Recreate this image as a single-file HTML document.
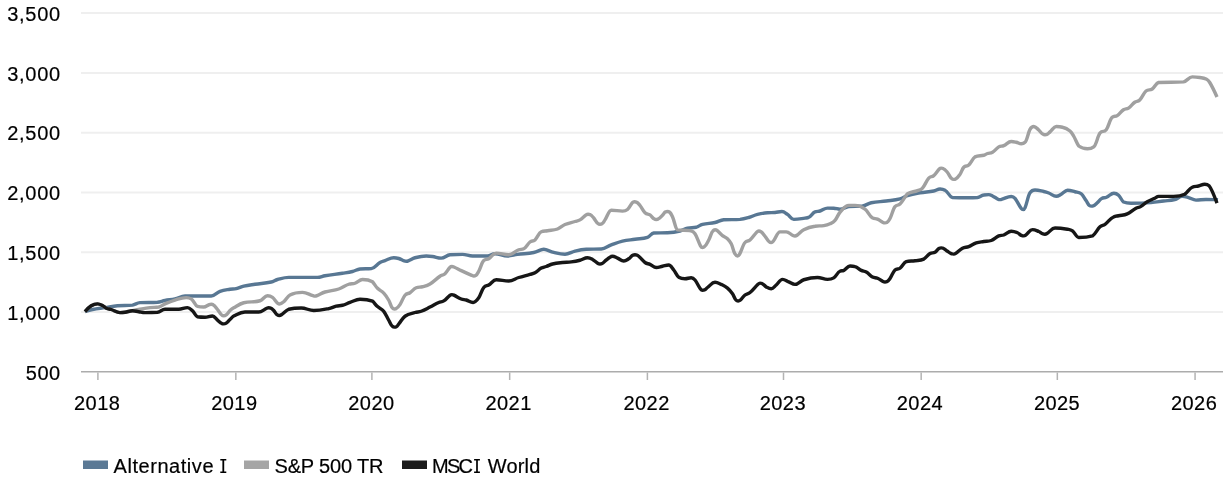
<!DOCTYPE html>
<html><head><meta charset="utf-8"><style>
html,body{margin:0;padding:0;background:#fff;}
svg{display:block;will-change:transform;font-family:"Liberation Sans",sans-serif;font-size:20px;}
text{fill:#000;stroke:#000;stroke-width:0.2px;}
.tx{opacity:0.999;}

</style></head><body>
<svg width="1230" height="480" viewBox="0 0 1230 480">
<line x1="81" y1="13.10" x2="1223" y2="13.10" stroke="#efefef" stroke-width="2"/>
<line x1="81" y1="72.88" x2="1223" y2="72.88" stroke="#efefef" stroke-width="2"/>
<line x1="81" y1="132.67" x2="1223" y2="132.67" stroke="#efefef" stroke-width="2"/>
<line x1="81" y1="192.45" x2="1223" y2="192.45" stroke="#efefef" stroke-width="2"/>
<line x1="81" y1="252.23" x2="1223" y2="252.23" stroke="#efefef" stroke-width="2"/>
<line x1="81" y1="312.02" x2="1223" y2="312.02" stroke="#efefef" stroke-width="2"/>

<line x1="81" y1="371.8" x2="1223" y2="371.8" stroke="#acacac" stroke-width="1.6"/>
<line x1="97.90" y1="372.5" x2="97.90" y2="380" stroke="#b3b3b3" stroke-width="1.5"/>
<line x1="235.83" y1="372.5" x2="235.83" y2="380" stroke="#b3b3b3" stroke-width="1.5"/>
<line x1="371.90" y1="372.5" x2="371.90" y2="380" stroke="#b3b3b3" stroke-width="1.5"/>
<line x1="509.67" y1="372.5" x2="509.67" y2="380" stroke="#b3b3b3" stroke-width="1.5"/>
<line x1="647.40" y1="372.5" x2="647.40" y2="380" stroke="#b3b3b3" stroke-width="1.5"/>
<line x1="783.50" y1="372.5" x2="783.50" y2="380" stroke="#b3b3b3" stroke-width="1.5"/>
<line x1="921.17" y1="372.5" x2="921.17" y2="380" stroke="#b3b3b3" stroke-width="1.5"/>
<line x1="1057.33" y1="372.5" x2="1057.33" y2="380" stroke="#b3b3b3" stroke-width="1.5"/>
<line x1="1195.07" y1="372.5" x2="1195.07" y2="380" stroke="#b3b3b3" stroke-width="1.5"/>

<g class="tx">
<text class="yl" x="7.20" y="20.85" textLength="53.0" lengthAdjust="spacing">3,500</text>
<text class="yl" x="7.20" y="80.63" textLength="53.0" lengthAdjust="spacing">3,000</text>
<text class="yl" x="7.20" y="140.42" textLength="53.0" lengthAdjust="spacing">2,500</text>
<text class="yl" x="7.20" y="200.20" textLength="53.0" lengthAdjust="spacing">2,000</text>
<text class="yl" x="7.20" y="259.98" textLength="53.0" lengthAdjust="spacing">1,500</text>
<text class="yl" x="7.20" y="319.77" textLength="53.0" lengthAdjust="spacing">1,000</text>
<text class="yl" x="25.70" y="379.55" textLength="34.5" lengthAdjust="spacing">500</text>

<text class="xl" x="74.05" y="410" textLength="45.8" lengthAdjust="spacing">2018</text>
<text class="xl" x="211.20" y="410" textLength="45.8" lengthAdjust="spacing">2019</text>
<text class="xl" x="348.30" y="410" textLength="45.8" lengthAdjust="spacing">2020</text>
<text class="xl" x="485.50" y="410" textLength="45.8" lengthAdjust="spacing">2021</text>
<text class="xl" x="623.50" y="410" textLength="45.8" lengthAdjust="spacing">2022</text>
<text class="xl" x="759.70" y="410" textLength="45.8" lengthAdjust="spacing">2023</text>
<text class="xl" x="896.80" y="410" textLength="45.8" lengthAdjust="spacing">2024</text>
<text class="xl" x="1033.90" y="410" textLength="45.8" lengthAdjust="spacing">2025</text>
<text class="xl" x="1171.00" y="410" textLength="45.8" lengthAdjust="spacing">2026</text>

</g>
<g fill="none" stroke-width="3.4" stroke-linejoin="round" stroke-linecap="butt">
<path d="M85.00,311.60 C85.00,311.60 89.50,310.10 92.50,309.50 C97.50,308.50 100.00,308.35 105.00,307.60 C110.00,306.85 112.50,306.20 117.50,305.75 C123.50,305.20 126.50,305.75 132.50,305.10 C135.50,304.45 137.00,302.95 140.00,302.60 C147.00,302.25 150.50,302.60 157.50,302.25 C160.50,301.90 162.00,301.07 165.00,300.50 C169.00,299.73 171.00,299.80 175.00,298.90 C179.00,298.00 181.00,296.00 185.00,296.00 C195.50,296.00 200.75,296.00 211.25,296.00 C214.75,296.00 216.50,292.66 220.00,291.40 C224.00,289.96 226.00,289.94 230.00,289.25 C232.50,288.82 233.75,289.17 236.25,288.60 C239.25,287.91 240.75,286.80 243.75,286.10 C248.25,285.06 250.50,284.92 255.00,284.25 C261.50,283.28 264.75,283.37 271.25,282.00 C273.75,281.47 275.00,280.16 277.50,279.50 C282.00,278.32 284.25,277.40 288.75,277.40 C300.25,277.40 306.00,277.40 317.50,277.40 C320.50,277.40 322.00,276.25 325.00,275.75 C332.00,274.59 335.50,274.33 342.50,273.25 C346.50,272.63 348.50,272.47 352.50,271.50 C355.50,270.77 357.00,269.40 360.00,269.00 C364.50,268.60 366.75,269.00 371.25,268.60 C374.75,268.20 376.50,264.54 380.00,262.50 C382.00,261.34 383.00,261.29 385.00,260.60 C388.50,259.39 390.25,257.75 393.75,257.75 C395.75,257.75 396.75,257.90 398.75,258.50 C400.95,259.16 402.05,260.11 404.25,260.92 C405.05,261.21 405.45,261.25 406.25,261.25 C407.05,261.25 407.45,261.15 408.25,260.83 C410.95,259.75 412.30,258.47 415.00,257.75 C419.50,256.54 421.75,256.00 426.25,256.00 C428.75,256.00 430.00,256.15 432.50,256.50 C436.00,256.99 437.75,258.10 441.25,258.10 C444.75,258.10 446.50,255.10 450.00,254.75 C455.00,254.40 457.50,254.40 462.50,254.40 C466.50,254.40 468.50,256.00 472.50,256.00 C478.50,256.00 481.50,256.00 487.50,256.00 C490.50,256.00 492.00,253.75 495.00,253.75 C500.00,253.75 502.50,256.00 507.50,256.00 C511.50,256.00 513.50,254.93 517.50,254.40 C524.00,253.53 527.25,253.78 533.75,252.50 C536.95,251.87 538.55,250.68 541.75,249.64 C542.55,249.38 542.95,249.25 543.75,249.25 C544.55,249.25 544.95,249.38 545.75,249.63 C548.95,250.64 550.55,251.63 553.75,252.40 C558.25,253.48 560.50,254.25 565.00,254.25 C569.00,254.25 571.00,252.04 575.00,251.10 C579.50,250.04 581.75,249.50 586.25,249.25 C592.25,249.00 595.25,249.25 601.25,249.00 C605.25,248.75 607.25,246.39 611.25,244.90 C615.75,243.23 618.00,242.17 622.50,241.10 C627.50,239.91 630.00,239.99 635.00,239.25 C640.00,238.51 642.50,239.07 647.50,237.40 C650.00,236.57 651.25,233.25 653.75,233.00 C659.25,232.75 662.00,233.00 667.50,232.75 C672.50,232.50 675.00,232.16 680.00,231.00 C683.00,230.30 684.50,228.79 687.50,228.10 C691.00,227.29 692.75,228.10 696.25,227.25 C698.75,226.40 700.00,225.03 702.50,224.40 C707.50,223.13 710.00,223.59 715.00,222.50 C718.50,221.73 720.25,220.10 723.75,219.75 C730.25,219.40 733.50,219.75 740.00,219.40 C743.50,219.05 745.25,218.50 748.75,217.50 C752.25,216.50 754.00,215.29 757.50,214.40 C761.50,213.39 763.50,213.00 767.50,212.75 C770.50,212.50 772.00,212.75 775.00,212.50 C777.76,212.25 779.14,211.50 781.90,211.50 C784.14,211.50 785.26,212.91 787.50,214.40 C790.00,216.07 791.25,219.40 793.75,219.40 C798.25,219.40 800.50,218.74 805.00,218.10 C806.50,217.88 807.25,218.10 808.75,217.25 C811.25,216.40 812.50,212.80 815.00,211.90 C817.00,211.00 818.00,211.61 820.00,211.00 C823.00,210.09 824.50,208.10 827.50,208.10 C830.00,208.10 831.25,208.10 833.75,208.20 C836.25,208.30 837.50,209.20 840.00,209.20 C843.50,209.20 845.25,207.00 848.75,206.50 C854.25,206.00 857.00,206.50 862.50,206.00 C866.00,205.50 867.75,203.49 871.25,202.75 C877.25,201.49 880.25,201.80 886.25,201.00 C891.75,200.26 894.50,200.32 900.00,198.90 C903.00,198.12 904.50,196.42 907.50,195.50 C912.50,193.96 915.00,193.61 920.00,192.75 C925.50,191.81 928.25,192.03 933.75,191.00 C936.25,190.53 937.50,189.00 940.00,189.00 C942.00,189.00 943.00,189.00 945.00,190.25 C948.00,191.50 949.50,197.25 952.50,197.50 C958.50,197.75 961.50,197.75 967.50,197.75 C971.50,197.75 973.50,197.75 977.50,197.50 C980.00,197.25 981.25,195.40 983.75,195.00 C985.75,194.60 986.75,194.60 988.75,194.60 C990.25,194.60 991.00,195.16 992.50,195.90 C994.70,196.98 995.80,198.07 998.00,199.16 C998.80,199.55 999.20,199.60 1000.00,199.60 C1000.80,199.60 1001.20,199.45 1002.00,199.23 C1005.70,198.21 1007.55,196.50 1011.25,196.50 C1012.75,196.50 1013.50,196.61 1015.00,198.40 C1017.44,201.31 1018.66,204.88 1021.10,208.26 C1021.90,209.36 1022.30,209.60 1023.10,209.60 C1023.90,209.60 1024.30,209.53 1025.10,207.58 C1027.06,202.79 1028.04,195.50 1030.00,192.75 C1032.00,190.00 1033.00,190.00 1035.00,190.00 C1038.50,190.00 1040.25,190.74 1043.75,191.50 C1045.75,191.94 1046.75,192.24 1048.75,193.00 C1051.75,194.14 1053.25,196.25 1056.25,196.25 C1058.25,196.25 1059.25,195.32 1061.25,194.25 C1063.75,192.92 1065.00,190.25 1067.50,190.25 C1070.50,190.25 1072.00,190.98 1075.00,191.75 C1077.50,192.40 1078.75,191.79 1081.25,193.80 C1083.25,195.41 1084.25,197.94 1086.25,200.80 C1087.51,202.60 1088.14,204.83 1089.40,205.46 C1090.20,206.10 1090.60,206.10 1091.40,206.10 C1092.20,206.10 1092.60,206.10 1093.40,205.73 C1094.84,205.36 1095.56,204.27 1097.00,203.00 C1098.80,201.42 1099.70,199.68 1101.50,198.60 C1103.50,197.40 1104.50,198.17 1106.50,197.30 C1109.46,196.01 1110.94,193.20 1113.90,193.20 C1115.78,193.20 1116.72,193.49 1118.60,195.20 C1120.60,197.01 1121.60,200.75 1123.60,202.00 C1126.56,203.25 1128.04,203.25 1131.00,203.25 C1139.00,203.25 1143.00,203.15 1151.00,202.60 C1156.00,202.25 1158.50,201.65 1163.50,201.00 C1168.00,200.41 1170.25,200.60 1174.75,199.50 C1177.75,198.76 1179.25,196.40 1182.25,196.40 C1184.75,196.40 1186.00,196.93 1188.50,197.60 C1191.50,198.41 1193.00,200.10 1196.00,200.10 C1200.00,200.10 1202.00,199.50 1206.00,199.50 C1209.50,199.50 1211.25,199.51 1214.75,199.60 C1216.05,199.63 1218.00,199.80 1218.00,199.80" stroke="#587793"/>
<path d="M85.00,311.60 C85.00,311.60 88.75,307.29 91.25,305.75 C93.75,304.21 95.00,303.90 97.50,303.90 C99.50,303.90 100.50,304.51 102.50,305.50 C104.00,306.25 104.75,307.56 106.25,308.25 C108.25,309.16 109.25,308.87 111.25,309.50 C114.75,310.61 116.50,312.60 120.00,312.60 C122.00,312.60 123.00,312.55 125.00,312.25 C128.00,311.81 129.50,311.35 132.50,310.75 C135.00,310.25 136.25,309.95 138.75,309.50 C143.25,308.69 145.50,308.16 150.00,307.60 C153.50,307.16 155.25,307.60 158.75,307.00 C161.25,306.40 162.50,304.96 165.00,303.90 C169.00,302.20 171.00,301.29 175.00,300.10 C179.50,298.77 181.75,297.60 186.25,297.60 C188.25,297.60 189.25,297.60 191.25,298.90 C193.75,300.20 195.00,305.80 197.50,306.40 C200.00,307.00 201.25,307.00 203.75,307.00 C205.95,307.00 207.05,305.39 209.25,304.58 C210.05,304.29 210.45,304.25 211.25,304.25 C212.05,304.25 212.45,304.25 213.25,304.88 C214.95,305.51 215.80,307.48 217.50,309.50 C219.20,311.52 220.05,314.25 221.75,315.00 C222.55,315.75 222.95,315.75 223.75,315.75 C224.55,315.75 224.95,315.75 225.75,315.13 C227.45,314.51 228.30,312.17 230.00,310.60 C231.50,309.22 232.25,308.61 233.75,307.75 C237.75,305.47 239.75,303.82 243.75,302.75 C250.25,301.02 253.50,302.67 260.00,300.75 C263.00,299.87 264.50,295.75 267.50,295.75 C269.50,295.75 270.50,296.01 272.50,297.40 C275.26,299.31 276.64,304.00 279.40,304.00 C281.14,304.00 282.01,303.24 283.75,301.75 C286.25,299.60 287.50,296.15 290.00,294.90 C295.00,292.41 297.50,292.40 302.50,292.40 C306.70,292.40 308.80,294.41 313.00,295.66 C313.80,295.89 314.20,296.10 315.00,296.10 C315.80,296.10 316.20,295.94 317.00,295.61 C320.20,294.30 321.80,292.97 325.00,292.00 C330.50,290.33 333.25,290.79 338.75,289.00 C342.75,287.69 344.75,285.67 348.75,284.25 C351.25,283.37 352.50,284.11 355.00,283.25 C358.00,282.21 359.50,279.50 362.50,279.50 C366.50,279.50 368.50,279.50 372.50,281.75 C374.50,284.00 375.50,286.26 377.50,288.30 C380.00,290.84 381.25,290.54 383.75,293.20 C385.75,295.32 386.75,296.84 388.75,300.25 C390.21,302.74 390.94,306.90 392.40,307.95 C393.20,309.00 393.60,309.00 394.40,309.00 C395.20,309.00 395.60,309.00 396.40,308.47 C397.84,307.94 398.56,306.81 400.00,304.60 C402.00,301.53 403.00,297.62 405.00,295.25 C407.00,292.88 408.00,294.08 410.00,292.75 C412.50,291.08 413.75,288.75 416.25,287.75 C418.75,286.75 420.00,287.43 422.50,286.75 C425.50,285.93 427.00,285.80 430.00,284.00 C434.00,281.60 436.00,278.98 440.00,276.25 C442.00,274.88 443.00,275.54 445.00,273.75 C446.96,271.99 447.94,269.43 449.90,267.37 C450.70,266.53 451.10,266.50 451.90,266.50 C452.70,266.50 453.10,266.64 453.90,266.99 C456.84,268.28 458.31,269.22 461.25,270.60 C465.45,272.57 467.55,273.54 471.75,275.35 C472.55,275.70 472.95,276.00 473.75,276.00 C474.55,276.00 474.95,276.00 475.75,275.43 C476.95,274.86 477.55,273.47 478.75,271.25 C480.75,267.54 481.75,262.45 483.75,260.60 C485.75,258.75 486.75,259.95 488.75,258.75 C491.75,256.95 493.25,253.10 496.25,253.10 C501.25,253.10 503.75,254.75 508.75,254.75 C512.75,254.75 514.75,251.35 518.75,249.75 C520.75,248.95 521.75,249.75 523.75,248.75 C526.25,247.75 527.50,243.97 530.00,242.00 C532.00,240.43 533.00,241.72 535.00,239.90 C537.50,237.62 538.75,232.75 541.25,231.75 C543.75,230.75 545.00,231.17 547.50,230.75 C551.50,230.07 553.50,230.43 557.50,229.00 C560.50,227.93 562.00,225.79 565.00,224.50 C569.00,222.79 571.00,222.73 575.00,221.50 C577.00,220.89 578.00,221.08 580.00,219.90 C582.44,218.46 583.66,216.63 586.10,214.93 C586.90,214.37 587.30,214.25 588.10,214.25 C588.90,214.25 589.30,214.25 590.10,214.70 C591.56,215.15 592.29,216.37 593.75,218.00 C595.45,219.89 596.30,222.75 598.00,223.50 C598.80,224.25 599.20,224.25 600.00,224.25 C600.80,224.25 601.20,224.25 602.00,223.73 C603.20,223.21 603.80,221.65 605.00,219.90 C607.50,216.26 608.75,210.25 611.25,210.25 C615.75,210.25 618.00,211.10 622.50,211.10 C624.50,211.10 625.50,211.10 627.50,209.50 C629.46,207.90 630.44,204.88 632.40,202.68 C633.20,201.78 633.60,201.75 634.40,201.75 C635.20,201.75 635.60,201.75 636.40,202.20 C637.84,202.65 638.56,203.73 640.00,205.50 C642.00,207.95 643.00,210.87 645.00,212.75 C647.00,214.63 648.00,213.56 650.00,214.90 C651.70,216.04 652.55,218.40 654.25,218.95 C655.05,219.50 655.45,219.50 656.25,219.50 C657.05,219.50 657.45,219.50 658.25,218.99 C659.95,218.48 660.80,216.90 662.50,215.25 C663.70,214.08 664.30,212.40 665.50,211.95 C666.30,211.50 666.70,211.50 667.50,211.50 C668.30,211.50 668.70,211.50 669.50,212.13 C670.70,212.76 671.30,214.08 672.50,216.75 C674.50,221.19 675.50,229.20 677.50,229.90 C682.50,230.60 685.00,229.90 690.00,230.60 C692.00,231.30 693.00,230.85 695.00,233.75 C697.20,236.95 698.30,241.82 700.50,245.85 C701.30,247.32 701.70,247.50 702.50,247.50 C703.30,247.50 703.70,247.50 704.50,246.60 C706.20,245.70 707.05,243.12 708.75,240.00 C710.45,236.88 711.30,232.21 713.00,230.98 C713.80,229.75 714.20,229.75 715.00,229.75 C715.80,229.75 716.20,229.83 717.00,230.45 C719.20,232.17 720.30,233.86 722.50,235.60 C724.50,237.18 725.50,236.89 727.50,238.75 C729.00,240.15 729.75,240.79 731.25,243.75 C732.95,247.10 733.80,253.06 735.50,254.53 C736.30,256.00 736.70,256.00 737.50,256.00 C738.30,256.00 738.70,255.82 739.50,254.38 C741.70,250.42 742.80,245.00 745.00,242.50 C747.00,240.00 748.00,241.77 750.00,240.00 C752.70,237.61 754.05,234.86 756.75,232.08 C757.55,231.26 757.95,231.00 758.75,231.00 C759.55,231.00 759.95,231.00 760.75,231.63 C762.45,232.26 763.30,234.23 765.00,236.25 C766.70,238.27 767.55,241.00 769.25,241.75 C770.05,242.50 770.45,242.50 771.25,242.50 C772.05,242.50 772.45,242.20 773.25,241.23 C775.95,237.96 777.30,231.90 780.00,231.90 C782.50,231.90 783.75,231.90 786.25,231.90 C788.95,231.90 790.30,234.24 793.00,235.51 C793.80,235.88 794.20,236.00 795.00,236.00 C795.80,236.00 796.20,235.82 797.00,235.25 C799.70,233.32 801.05,231.10 803.75,229.75 C808.25,227.50 810.50,226.90 815.00,226.25 C818.50,225.60 820.25,226.18 823.75,225.60 C826.25,225.18 827.50,224.91 830.00,223.75 C832.00,222.83 833.00,222.70 835.00,220.40 C837.00,218.10 838.00,214.43 840.00,212.25 C843.50,208.43 845.25,205.40 848.75,205.40 C851.25,205.40 852.50,205.40 855.00,205.40 C859.00,205.40 861.00,206.24 865.00,209.10 C868.00,211.24 869.50,216.70 872.50,217.90 C874.50,219.10 875.50,218.23 877.50,219.10 C879.70,220.05 880.80,221.33 883.00,222.44 C883.80,222.85 884.20,222.90 885.00,222.90 C885.80,222.90 886.20,222.90 887.00,222.37 C888.20,221.84 888.80,220.87 890.00,218.50 C892.00,214.56 893.00,209.10 895.00,206.60 C897.00,204.10 898.00,205.97 900.00,204.10 C902.00,202.23 903.00,200.01 905.00,197.25 C906.00,195.87 906.50,194.28 907.50,193.75 C911.50,191.62 913.50,192.11 917.50,190.60 C919.50,189.85 920.50,190.32 922.50,188.10 C925.00,185.32 926.25,180.88 928.75,178.10 C930.75,175.88 931.75,177.33 933.75,175.60 C935.95,173.69 937.05,171.20 939.25,169.00 C940.05,168.20 940.45,168.10 941.25,168.10 C942.05,168.10 942.45,168.10 943.25,168.63 C944.95,169.16 945.80,170.51 947.50,172.50 C949.20,174.49 950.05,177.74 951.75,178.57 C952.55,179.40 952.95,179.40 953.75,179.40 C954.55,179.40 954.95,179.40 955.75,178.80 C957.45,178.20 958.30,176.85 960.00,174.40 C961.50,172.23 962.25,168.86 963.75,167.25 C965.75,165.10 966.75,166.84 968.75,165.00 C971.25,162.70 972.50,158.55 975.00,156.90 C978.50,155.25 980.25,156.20 983.75,155.25 C985.25,154.84 986.00,154.01 987.50,153.50 C989.50,152.81 990.50,153.42 992.50,152.25 C995.00,150.78 996.25,148.38 998.75,146.90 C1000.75,145.72 1001.75,146.46 1003.75,145.60 C1006.75,144.30 1008.25,141.50 1011.25,141.50 C1013.25,141.50 1014.25,141.80 1016.25,142.25 C1018.25,142.70 1019.25,143.75 1021.25,143.75 C1022.75,143.75 1023.50,143.75 1025.00,142.25 C1027.00,140.75 1028.00,133.00 1030.00,129.40 C1031.50,126.70 1032.25,126.50 1033.75,126.50 C1035.75,126.50 1036.75,128.34 1038.75,130.00 C1040.45,131.41 1041.30,133.61 1043.00,134.18 C1043.80,134.75 1044.20,134.75 1045.00,134.75 C1045.80,134.75 1046.20,134.75 1047.00,134.41 C1048.20,134.07 1048.80,132.93 1050.00,131.90 C1052.50,129.76 1053.75,126.50 1056.25,126.50 C1058.75,126.50 1060.00,126.50 1062.50,127.25 C1065.50,128.00 1067.00,128.60 1070.00,131.00 C1071.50,132.20 1072.25,133.68 1073.75,136.25 C1075.75,139.68 1076.75,143.25 1078.75,146.00 C1082.25,148.75 1084.00,148.75 1087.50,148.75 C1090.00,148.75 1091.25,148.75 1093.75,146.90 C1096.25,145.05 1097.50,136.45 1100.00,133.10 C1102.50,129.75 1103.75,132.98 1106.25,129.75 C1108.65,126.64 1109.85,118.90 1112.25,117.25 C1114.25,115.60 1115.25,116.93 1117.25,115.60 C1119.75,113.93 1121.00,111.42 1123.50,109.75 C1125.50,108.42 1126.50,109.43 1128.50,108.10 C1131.00,106.43 1132.25,104.05 1134.75,102.25 C1136.75,100.81 1137.75,102.00 1139.75,100.00 C1142.25,97.50 1143.50,93.00 1146.00,91.00 C1148.50,89.00 1149.75,90.70 1152.25,89.00 C1154.75,87.30 1156.00,83.10 1158.50,82.50 C1168.50,81.90 1173.50,82.50 1183.50,81.90 C1187.00,81.30 1188.75,76.90 1192.25,76.90 C1195.25,76.90 1196.75,77.04 1199.75,77.50 C1202.25,77.88 1203.50,77.75 1206.00,79.00 C1207.50,79.75 1208.25,80.05 1209.75,82.50 C1212.65,87.25 1217.00,97.00 1217.00,97.00" stroke="#a0a0a0"/>
<path d="M85.00,311.60 C85.00,311.60 88.75,307.29 91.25,305.75 C93.75,304.21 95.00,303.90 97.50,303.90 C99.50,303.90 100.50,304.51 102.50,305.50 C104.00,306.25 104.75,307.56 106.25,308.25 C108.25,309.16 109.25,308.87 111.25,309.50 C114.75,310.61 116.50,312.60 120.00,312.60 C122.00,312.60 123.00,312.55 125.00,312.25 C128.00,311.81 129.50,310.75 132.50,310.75 C135.00,310.75 136.25,311.38 138.75,311.75 C141.25,312.12 142.50,312.60 145.00,312.60 C150.00,312.60 152.50,312.60 157.50,312.25 C160.50,311.90 162.00,309.25 165.00,309.25 C170.50,309.25 173.25,309.25 178.75,309.25 C182.25,309.25 184.00,307.60 187.50,307.60 C189.50,307.60 190.50,308.92 192.50,310.75 C194.50,312.58 195.50,316.25 197.50,316.75 C200.50,317.25 202.00,317.25 205.00,317.25 C208.00,317.25 209.50,316.00 212.50,316.00 C214.50,316.00 215.50,318.49 217.50,320.10 C219.20,321.47 220.05,322.99 221.75,323.44 C222.55,323.90 222.95,323.90 223.75,323.90 C224.55,323.90 224.95,323.90 225.75,323.37 C227.45,322.84 228.30,321.05 230.00,319.50 C231.50,318.14 232.25,316.85 233.75,316.10 C238.25,313.85 240.50,312.00 245.00,312.00 C250.50,312.00 253.25,312.00 258.75,312.00 C261.95,312.00 263.55,309.62 266.75,308.26 C267.55,307.92 267.95,307.75 268.75,307.75 C269.55,307.75 269.95,307.75 270.75,308.08 C271.95,308.41 272.55,309.27 273.75,310.50 C275.21,312.00 275.94,314.30 277.40,314.90 C278.20,315.50 278.60,315.50 279.40,315.50 C280.20,315.50 280.60,315.28 281.40,314.75 C284.34,312.78 285.81,310.50 288.75,309.25 C293.75,308.00 296.25,308.00 301.25,308.00 C306.25,308.00 308.75,310.50 313.75,310.50 C319.75,310.50 322.75,309.77 328.75,308.60 C331.75,308.01 333.25,306.83 336.25,306.10 C338.75,305.49 340.00,305.92 342.50,305.25 C345.50,304.44 347.00,303.43 350.00,302.40 C354.00,301.03 356.00,299.25 360.00,299.25 C365.00,299.25 367.50,299.25 372.50,301.10 C374.50,302.95 375.50,304.79 377.50,306.60 C380.00,308.87 381.25,308.27 383.75,311.30 C385.75,313.73 386.75,316.79 388.75,320.25 C390.21,322.78 390.94,325.46 392.40,326.28 C393.20,327.10 393.60,327.10 394.40,327.10 C395.20,327.10 395.60,327.10 396.40,326.73 C397.34,326.36 397.81,325.15 398.75,324.00 C401.25,320.95 402.50,318.02 405.00,316.25 C409.00,313.42 411.00,313.73 415.00,312.50 C417.50,311.73 418.75,312.15 421.25,311.25 C424.75,309.99 426.50,308.85 430.00,307.10 C433.50,305.35 435.25,304.08 438.75,302.50 C440.75,301.60 441.75,302.18 443.75,300.90 C446.21,299.32 447.44,297.26 449.90,295.36 C450.70,294.74 451.10,294.60 451.90,294.60 C452.70,294.60 453.10,294.75 453.90,295.13 C456.84,296.51 458.31,297.84 461.25,299.00 C463.25,299.79 464.25,299.41 466.25,300.00 C468.99,300.81 470.36,302.50 473.10,302.50 C475.36,302.50 476.49,300.93 478.75,297.75 C480.75,294.93 481.75,290.00 483.75,287.50 C485.75,285.00 486.75,286.24 488.75,285.00 C491.75,283.14 493.25,279.75 496.25,279.75 C501.25,279.75 503.75,281.00 508.75,281.00 C512.75,281.00 514.75,278.74 518.75,277.50 C523.25,276.10 525.50,275.72 530.00,274.40 C532.00,273.82 533.00,273.87 535.00,272.75 C537.50,271.35 538.75,269.49 541.25,268.10 C543.25,266.99 544.25,267.23 546.25,266.50 C548.75,265.59 550.00,264.62 552.50,264.00 C556.50,263.02 558.50,262.95 562.50,262.50 C566.00,262.11 567.75,262.35 571.25,261.90 C574.75,261.45 576.50,261.14 580.00,260.25 C583.00,259.48 584.50,257.75 587.50,257.75 C589.50,257.75 590.50,258.31 592.50,259.40 C594.70,260.59 595.80,262.10 598.00,263.45 C598.80,263.94 599.20,264.00 600.00,264.00 C600.80,264.00 601.20,264.00 602.00,263.52 C603.70,263.04 604.55,261.18 606.25,260.00 C608.75,258.27 610.00,256.25 612.50,256.25 C614.50,256.25 615.50,257.26 617.50,258.10 C620.00,259.16 621.25,261.00 623.75,261.00 C625.75,261.00 626.75,260.00 628.75,258.75 C630.45,257.69 631.30,255.71 633.00,255.23 C633.80,254.75 634.20,254.75 635.00,254.75 C635.80,254.75 636.20,254.75 637.00,255.08 C638.20,255.41 638.80,256.39 640.00,257.50 C642.00,259.35 643.00,261.12 645.00,262.50 C647.00,263.88 648.00,263.51 650.00,264.40 C652.50,265.51 653.75,267.50 656.25,267.50 C658.75,267.50 660.00,266.75 662.50,266.25 C665.00,265.75 666.25,265.00 668.75,265.00 C670.75,265.00 671.75,267.55 673.75,270.00 C675.75,272.45 676.75,275.75 678.75,277.25 C681.25,278.75 682.50,278.75 685.00,278.75 C687.50,278.75 688.75,277.75 691.25,277.75 C692.75,277.75 693.50,278.17 695.00,280.00 C697.20,282.68 698.30,286.01 700.50,289.02 C701.30,290.11 701.70,290.25 702.50,290.25 C703.30,290.25 703.70,290.25 704.50,289.92 C705.70,289.59 706.30,288.38 707.50,287.50 C710.50,285.31 712.00,282.25 715.00,282.25 C717.50,282.25 718.75,283.23 721.25,284.40 C723.75,285.57 725.00,286.02 727.50,288.10 C729.50,289.76 730.50,290.95 732.50,293.75 C733.94,295.76 734.66,299.26 736.10,300.13 C736.90,301.00 737.30,301.00 738.10,301.00 C738.90,301.00 739.30,300.98 740.10,300.28 C742.06,298.58 743.04,296.54 745.00,295.00 C747.00,293.43 748.00,294.16 750.00,292.50 C753.20,289.85 754.80,287.24 758.00,284.23 C758.80,283.48 759.20,283.10 760.00,283.10 C760.80,283.10 761.20,283.10 762.00,283.56 C763.70,284.01 764.55,285.95 766.25,286.90 C768.25,288.02 769.25,288.75 771.25,288.75 C773.25,288.75 774.25,286.66 776.25,285.00 C778.75,282.92 780.00,279.40 782.50,279.40 C785.00,279.40 786.25,280.90 788.75,281.90 C791.25,282.90 792.50,284.40 795.00,284.40 C798.50,284.40 800.25,280.82 803.75,279.75 C809.25,278.06 812.00,277.50 817.50,277.50 C821.50,277.50 823.50,279.40 827.50,279.40 C830.00,279.40 831.25,279.40 833.75,277.90 C836.25,276.40 837.50,272.10 840.00,271.25 C841.50,270.40 842.25,271.19 843.75,270.40 C846.25,269.09 847.50,266.00 850.00,266.00 C852.00,266.00 853.00,266.00 855.00,266.60 C857.50,267.20 858.75,269.20 861.25,270.40 C863.25,271.36 864.25,270.83 866.25,272.00 C868.75,273.47 870.00,275.61 872.50,277.00 C874.50,278.11 875.50,277.38 877.50,278.25 C879.70,279.20 880.80,280.45 883.00,281.55 C883.80,281.95 884.20,282.00 885.00,282.00 C885.80,282.00 886.20,282.00 887.00,281.58 C888.20,281.16 888.80,280.24 890.00,278.50 C892.00,275.61 893.00,271.75 895.00,270.00 C897.00,268.25 898.00,269.74 900.00,268.25 C902.50,266.38 903.75,262.45 906.25,261.60 C909.75,260.75 911.50,261.25 915.00,260.75 C918.50,260.25 920.25,260.75 923.75,259.10 C926.25,257.45 927.50,255.02 930.00,253.50 C932.00,252.28 933.00,253.35 935.00,252.25 C936.70,251.32 937.55,248.94 939.25,248.42 C940.05,247.90 940.45,247.90 941.25,247.90 C942.05,247.90 942.45,247.90 943.25,248.31 C944.95,248.72 945.80,250.21 947.50,251.30 C949.20,252.39 950.05,253.43 951.75,253.76 C952.55,254.10 952.95,254.10 953.75,254.10 C954.55,254.10 954.95,253.93 955.75,253.40 C958.45,251.59 959.80,249.66 962.50,248.25 C965.00,246.94 966.25,247.57 968.75,246.60 C971.75,245.43 973.25,243.92 976.25,242.90 C979.25,241.88 980.75,241.98 983.75,241.50 C986.75,241.02 988.25,241.50 991.25,240.50 C994.25,239.50 995.75,237.22 998.75,235.90 C1000.75,235.02 1001.75,235.74 1003.75,235.00 C1006.75,233.88 1008.25,231.25 1011.25,231.25 C1013.75,231.25 1015.00,231.73 1017.50,232.75 C1019.20,233.44 1020.05,235.14 1021.75,235.52 C1022.55,235.90 1022.95,235.90 1023.75,235.90 C1024.55,235.90 1024.95,235.72 1025.75,235.14 C1028.45,233.20 1029.80,229.60 1032.50,229.60 C1035.00,229.60 1036.25,230.47 1038.75,231.50 C1040.45,232.20 1041.30,233.59 1043.00,233.92 C1043.80,234.25 1044.20,234.25 1045.00,234.25 C1045.80,234.25 1046.20,234.00 1047.00,233.50 C1050.20,231.50 1051.80,228.00 1055.00,228.00 C1060.00,228.00 1062.50,228.42 1067.50,229.25 C1069.50,229.58 1070.50,229.43 1072.50,230.90 C1075.00,232.73 1076.25,237.50 1078.75,237.50 C1084.25,237.50 1087.00,237.50 1092.50,235.90 C1095.50,234.30 1097.00,229.56 1100.00,226.80 C1102.00,224.96 1103.00,225.84 1105.00,224.40 C1108.44,221.92 1110.16,218.25 1113.60,217.00 C1115.56,215.75 1116.54,216.20 1118.50,215.75 C1122.00,214.96 1123.75,215.40 1127.25,213.90 C1130.75,212.40 1132.50,210.16 1136.00,208.25 C1138.00,207.16 1139.00,207.56 1141.00,206.40 C1143.50,204.96 1144.75,203.23 1147.25,201.75 C1150.25,199.97 1151.75,199.68 1154.75,198.25 C1156.25,197.54 1157.00,196.40 1158.50,196.40 C1164.50,196.40 1167.50,196.40 1173.50,196.40 C1178.00,196.40 1180.25,196.40 1184.75,194.25 C1187.75,192.10 1189.25,188.50 1192.25,187.25 C1194.75,186.00 1196.00,186.60 1198.50,186.00 C1201.00,185.40 1202.25,184.25 1204.75,184.25 C1206.49,184.25 1207.36,184.25 1209.10,185.75 C1210.36,187.25 1210.99,188.62 1212.25,191.40 C1214.15,195.60 1217.00,203.20 1217.00,203.20" stroke="#161616"/>
</g>
<rect x="83" y="460.5" width="25" height="8.5" fill="#5b7995"/>
<g class="tx"><text x="113.5" y="473" textLength="100" lengthAdjust="spacing">Alternative</text>
<path d="M220.3,459.1h6v1.35h-2.1v11.1h2.1v1.35h-6v-1.35h2.1v-11.1h-2.1z"/>
<rect x="244" y="460.5" width="25" height="8.5" fill="#a5a5a5"/>
<text x="274.5" y="473" textLength="109" lengthAdjust="spacing">S&amp;P 500 TR</text>
<rect x="402" y="460.5" width="25" height="8.5" fill="#1b1b1b"/>
<text x="432" y="473" textLength="41" lengthAdjust="spacing">MSC</text>
<path d="M474.1,459.1h5.8v1.35h-2.05v11.1h2.05v1.35h-5.8v-1.35h2.05v-11.1h-2.05z"/>
<text x="487.7" y="473" textLength="52.7" lengthAdjust="spacing">World</text></g>
</svg>
</body></html>
